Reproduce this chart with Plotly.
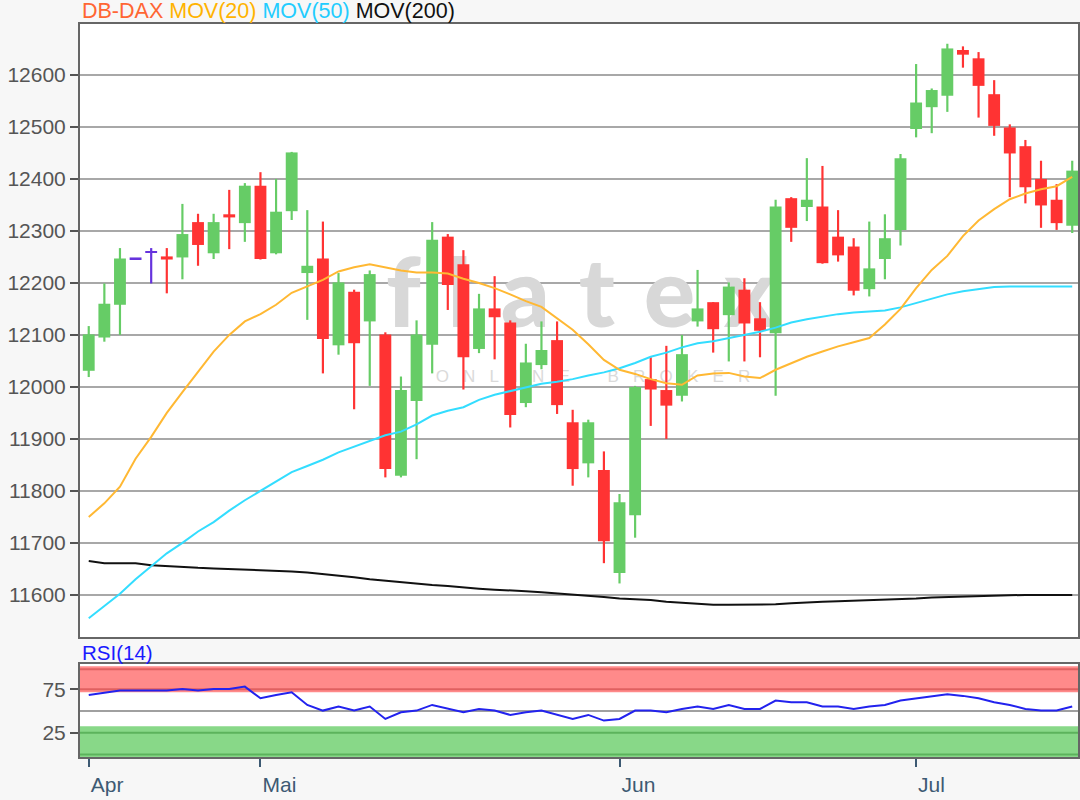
import plotly.graph_objects as go

# ---------------- data ----------------
month_ticks = [0, 11, 34, 53]
month_labels = ["Apr", "Mai", "Jun", "Jul"]

open_ = [12031, 12095, 12158, 12246, 12258, 12251, 12249, 12317, 12257, 12332,
         12315, 12387, 12257, 12338, 12219, 12247, 12080, 12183, 12126, 12101,
         11829, 11973, 12081, 12289, 12236, 12073, 12151, 12124, 11969, 12042,
         12090, 11932, 11853, 11840, 11642, 11753, 12015, 11994, 11983, 12126,
         12163, 12138, 12187, 12132, 12103, 12363, 12346, 12347, 12289, 12270,
         12188, 12246, 12302, 12496, 12538, 12560, 12648, 12632, 12563, 12499,
         12463, 12400, 12360, 12310]
high = [12117, 12199, 12267, 12246, 12267, 12267, 12352, 12333, 12333, 12379,
        12392, 12413, 12400, 12452, 12340, 12318, 12219, 12187, 12224, 12105,
        12020, 12128, 12317, 12294, 12263, 12179, 12213, 12128, 12083, 12126,
        12126, 11956, 11937, 11876, 11794, 12002, 12057, 12079, 12100, 12225,
        12163, 12201, 12209, 12163, 12360, 12365, 12440, 12425, 12340, 12286,
        12318, 12332, 12448, 12621, 12574, 12660, 12655, 12644, 12590, 12505,
        12475, 12435, 12390, 12435]
low = [12019, 12087, 12100, 12246, 12199, 12180, 12207, 12233, 12246, 12265,
       12279, 12245, 12255, 12321, 12129, 12026, 12062, 11957, 12002, 11826,
       11826, 11861, 12026, 12148, 11995, 12065, 12053, 11922, 11961, 12034,
       11948, 11810, 11826, 11661, 11622, 11710, 11925, 11900, 11972, 12116,
       12066, 12049, 12049, 12057, 11983, 12279, 12319, 12237, 12241, 12176,
       12174, 12207, 12272, 12480, 12488, 12529, 12614, 12518, 12483, 12365,
       12353, 12306, 12302, 12296]
close = [12101, 12160, 12247, 12246, 12258, 12245, 12294, 12273, 12317, 12326,
         12387, 12246, 12337, 12451, 12233, 12092, 12201, 12084, 12217, 11842,
         11994, 12101, 12283, 12196, 12057, 12151, 12134, 11946, 12047, 12071,
         11965, 11842, 11932, 11703, 11778, 12000, 11995, 11964, 12063, 12151,
         12111, 12193, 12122, 12108, 12347, 12306, 12360, 12238, 12253, 12185,
         12228, 12286, 12440, 12547, 12571, 12651, 12639, 12579, 12502, 12449,
         12384, 12349, 12315, 12416]

mov20 = [11750, 11776, 11808, 11862, 11904, 11950, 11990, 12030, 12068, 12100,
         12126, 12140, 12158, 12181, 12194, 12206, 12222, 12230, 12236, 12230,
         12224, 12220, 12220, 12218, 12208, 12200, 12190, 12178, 12165, 12154,
         12132, 12110, 12082, 12052, 12033, 12025, 12015, 12007, 12004, 12022,
         12026, 12027, 12020, 12017, 12033, 12046, 12058, 12068, 12078, 12086,
         12094, 12120, 12150, 12190, 12225, 12252, 12290, 12320, 12342, 12361,
         12372, 12380, 12386, 12404]
mov50 = [11555, 11578, 11602, 11630, 11655, 11680, 11700, 11722, 11740, 11762,
         11782, 11800, 11818, 11836, 11848, 11860, 11874, 11885, 11895, 11907,
         11914, 11928, 11945, 11954, 11961, 11975, 11985, 11992, 12000, 12006,
         12010, 12015, 12022, 12028, 12036, 12046, 12058, 12066, 12076, 12084,
         12088, 12094, 12100, 12106, 12114, 12124, 12130, 12135, 12140, 12143,
         12145, 12147, 12153, 12161, 12170, 12178, 12184, 12188, 12192, 12193,
         12193, 12193, 12193, 12193]
mov200 = [11665, 11661, 11661, 11661, 11657, 11655, 11653, 11652, 11651, 11650,
          11649, 11647, 11646, 11645, 11643, 11640, 11638, 11634, 11630, 11627,
          11624, 11621, 11619, 11617, 11614, 11612, 11610, 11609, 11607, 11605,
          11603, 11601, 11598, 11596, 11593, 11592, 11590, 11587, 11585, 11583,
          11581, 11581, 11581, 11581, 11582, 11584, 11586, 11587, 11588, 11589,
          11590, 11590, 11591, 11593, 11595, 11596, 11597, 11598, 11599, 11600,
          11600, 11600, 11600, 11600]
rsi14 = [68.4, 71.0, 73.4, 73.4, 73.4, 73.4, 75.3, 73.4, 75.3, 75.3,
         78.0, 64.6, 68.4, 71.5, 56.9, 50.4, 55.0, 50.4, 55.0, 40.8,
         48.5, 50.4, 56.9, 53.1, 48.5, 52.3, 50.4, 45.4, 48.5, 50.4,
         45.4, 40.8, 45.4, 38.9, 40.8, 50.4, 50.4, 48.5, 52.3, 55.0,
         52.3, 56.9, 52.3, 52.3, 61.9, 60.0, 60.0, 55.0, 55.0, 52.3,
         55.0, 56.9, 61.9, 64.6, 66.5, 69.2, 67.3, 64.6, 60.0, 56.9,
         52.3, 50.4, 50.4, 55.0]
price_ticks = [11600, 11700, 11800, 11900, 12000, 12100, 12200, 12300, 12400, 12500, 12600]
rsi_ticks = [25, 75]

# ---------------- styling ----------------
UP, DOWN, FLAT = "#66CC66", "#FF3333", "#6633DD"
FONT = "Liberation Sans, Arial, sans-serif"
X_RANGE = [-0.56, 63.37]
Y_RANGE = [11519, 12698]

idx = list(range(len(open_)))
colors = [UP if c > o else (DOWN if c < o else FLAT) for o, c in zip(open_, close)]
body_base = [min(o, c) for o, c in zip(open_, close)]
body_h = [max(abs(c - o), 3) for o, c in zip(open_, close)]
wick_h = [h - l for h, l in zip(high, low)]

fig = go.Figure()

# watermark (drawn on base axes, under the overlaid price traces)
NB = "\u00a0"
HS = "\u200a"
fig.add_trace(go.Scatter(x=[31.5], y=[12162], mode="text",
                         text=[(NB + HS).join("flatex")],
                         textfont=dict(family="Lato, sans-serif", size=96, color="#d8d8d8", weight=900),
                         hoverinfo="skip", xaxis="x", yaxis="y"))
fig.add_trace(go.Scatter(x=[32.3], y=[12017], mode="text",
                         text=[(NB * 3).join("ONLINE") + NB * 8 + (NB * 3).join("BROKER")],
                         textfont=dict(family=FONT, size=17, color="#dadada"),
                         hoverinfo="skip", xaxis="x", yaxis="y"))

# candles
fig.add_trace(go.Bar(x=idx, y=wick_h, base=low, width=0.14, marker=dict(color=colors, line=dict(width=0)),
                     xaxis="x", yaxis="y3", hoverinfo="skip"))
fig.add_trace(go.Bar(x=idx, y=body_h, base=body_base, width=0.76, marker=dict(color=colors, line=dict(width=0)),
                     xaxis="x", yaxis="y3", hoverinfo="skip"))

# moving averages
fig.add_trace(go.Scatter(x=idx, y=mov200, mode="lines", line=dict(color="#111111", width=2), xaxis="x", yaxis="y3"))
fig.add_trace(go.Scatter(x=idx, y=mov50, mode="lines", line=dict(color="#33DDFF", width=2), xaxis="x", yaxis="y3"))
fig.add_trace(go.Scatter(x=idx, y=mov20, mode="lines", line=dict(color="#FFB833", width=2), xaxis="x", yaxis="y3"))

# RSI
fig.add_trace(go.Scatter(x=idx, y=rsi14, mode="lines", line=dict(color="#2222EE", width=2), xaxis="x2", yaxis="y2"))

frame = dict(showline=True, mirror=True, linecolor="#666666", linewidth=2, zeroline=False, automargin=False)

fig.update_layout(
    width=1080, height=800,
    paper_bgcolor="#f7f7f7", plot_bgcolor="#ffffff",
    margin=dict(l=80, r=2, t=24, b=43, autoexpand=False),
    showlegend=False, barmode="overlay", hovermode=False,
    xaxis=dict(domain=[0, 1], anchor="y", range=X_RANGE, showticklabels=False, ticks="",
               showgrid=False, **frame),
    yaxis=dict(domain=[0.1637, 1], anchor="x", range=Y_RANGE, tickvals=price_ticks, tickformat="d",
               showgrid=True, gridcolor="#a8a8a8", gridwidth=2,
               ticks="outside", ticklen=8, tickwidth=2, tickcolor="#555555",
               tickfont=dict(family=FONT, size=21, color="#555555"), **frame),
    yaxis3=dict(overlaying="y", anchor="x", range=Y_RANGE, visible=False),
    xaxis2=dict(domain=[0, 1], anchor="y2", range=X_RANGE, tickvals=month_ticks, ticktext=month_labels,
                ticks="outside", ticklen=8, tickwidth=2, tickcolor="#3d5a73",
                ticklabelposition="outside right", ticklabelstandoff=8,
                tickfont=dict(family=FONT, size=21, color="#3d5a73"), showgrid=False, **frame),
    yaxis2=dict(domain=[0, 0.1269], anchor="x2", range=[-3, 104], tickvals=rsi_ticks,
                showgrid=False, ticks="outside", ticklen=8, tickwidth=2, tickcolor="#555555",
                tickfont=dict(family=FONT, size=21, color="#555555"), **frame),
)

# RSI zones
fig.add_shape(type="rect", xref="x2 domain", yref="y2", x0=0, x1=1, y0=71.5, y1=101.5,
              fillcolor="#FF8A8A", line=dict(width=0), layer="below")
fig.add_shape(type="rect", xref="x2 domain", yref="y2", x0=0, x1=1, y0=-3, y1=32.5,
              fillcolor="#88D888", line=dict(width=0), layer="below")
for yv, col in [(75, "#E06060"), (98, "#E06060"), (25, "#5CB35C"), (0, "#5CB35C")]:
    fig.add_shape(type="line", xref="x2 domain", yref="y2", x0=0, x1=1, y0=yv, y1=yv,
                  line=dict(color=col, width=2), layer="below")
fig.add_shape(type="line", xref="x2 domain", yref="y2", x0=0, x1=1, y0=50, y1=50,
              line=dict(color="#a0a0a0", width=2), layer="below")

# titles
fig.add_annotation(xref="paper", yref="paper", x=0, y=1, xanchor="left", yanchor="bottom",
                   xshift=0, yshift=-1, showarrow=False,
                   text='<span style="color:#FF6633">DB-DAX</span> '
                        '<span style="color:#FFB300">MOV(20)</span> '
                        '<span style="color:#22CCFF">MOV(50)</span> '
                        '<span style="color:#111111">MOV(200)</span>',
                   font=dict(family=FONT, size=21.5))
fig.add_annotation(xref="paper", yref="paper", x=0, y=0.1269, xanchor="left", yanchor="bottom",
                   xshift=0, yshift=-2, showarrow=False, text="RSI(14)",
                   font=dict(family=FONT, size=20.5, color="#1a1aff"))

fig.write_html("out.html", config={"displayModeBar": False},
               post_script="document.body.style.margin='0';document.body.style.background='#f7f7f7';")
